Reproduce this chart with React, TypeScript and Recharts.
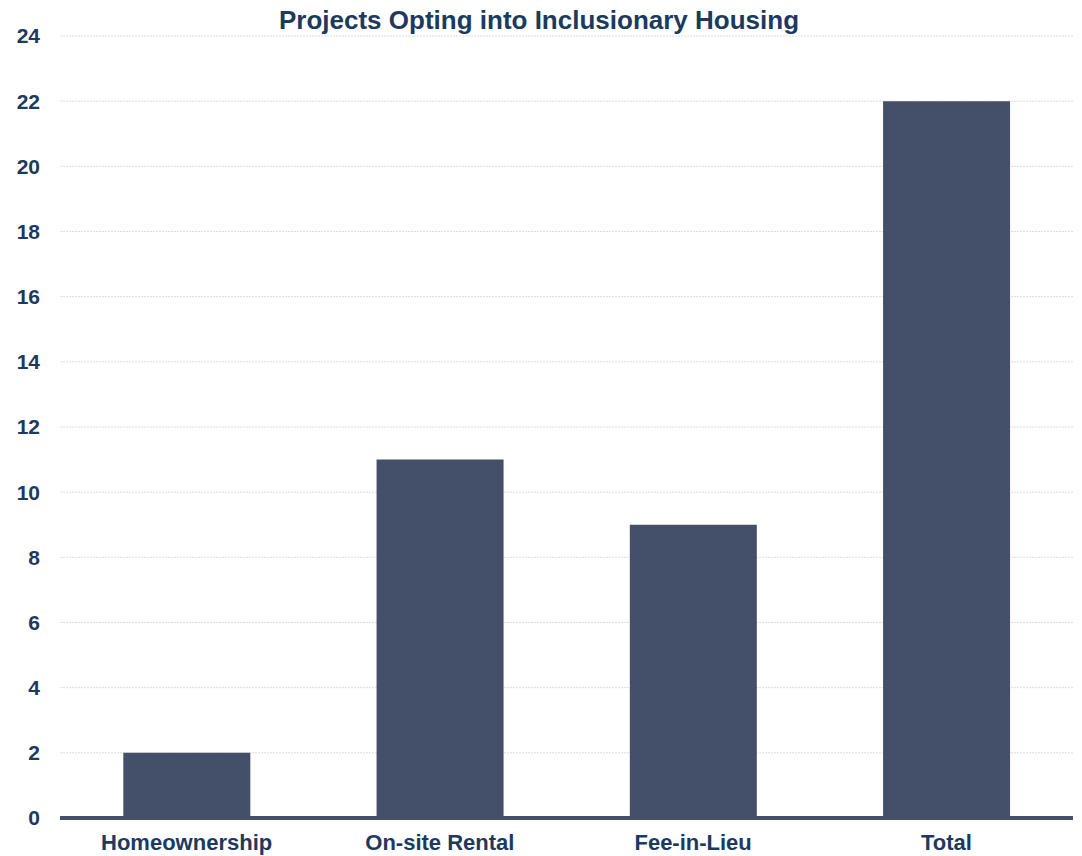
import { BarChart, Bar, XAxis, YAxis, CartesianGrid } from "recharts";

const categories = ["Homeownership", "On-site Rental", "Fee-in-Lieu", "Total"];
const projects = [2, 11, 9, 22];
const yTicks = [0, 2, 4, 6, 8, 10, 12, 14, 16, 18, 20, 22, 24];

const chartData = categories.map((name, i) => ({ name, projects: projects[i] }));

const textColor = "#1c3a5e";
const barColor = "#445069";
const font = "'Liberation Sans', Arial, sans-serif";

export default function App() {
  return (
    <div style={{ position: "absolute", left: 0, top: 0, width: 1082, height: 856, background: "#fff" }}>
      <div
        style={{
          position: "absolute",
          left: 0,
          width: 1078,
          top: 5,
          textAlign: "center",
          fontFamily: font,
          fontWeight: "bold",
          fontSize: 26,
          color: textColor,
        }}
      >
        Projects Opting into Inclusionary Housing
      </div>
      <BarChart
        width={1082}
        height={856}
        data={chartData}
        margin={{ top: 36, right: 9, bottom: 0, left: 0 }}
        barCategoryGap="25%"
      >
        <CartesianGrid vertical={false} stroke="#dcdcdc" strokeDasharray="2 1" />
        <XAxis
          dataKey="name"
          height={38}
          tickLine={false}
          axisLine={{ stroke: barColor, strokeWidth: 4 }}
          tickMargin={10}
          tick={{ fill: textColor, fontSize: 22, fontWeight: "bold", fontFamily: font }}
        />
        <YAxis
          width={60}
          domain={[0, 24]}
          ticks={yTicks}
          interval={0}
          tickLine={false}
          axisLine={false}
          tickMargin={14}
          tick={{ fill: textColor, fontSize: 21, fontWeight: "bold", fontFamily: font }}
        />
        <Bar dataKey="projects" fill={barColor} isAnimationActive={false} />
      </BarChart>
    </div>
  );
}
